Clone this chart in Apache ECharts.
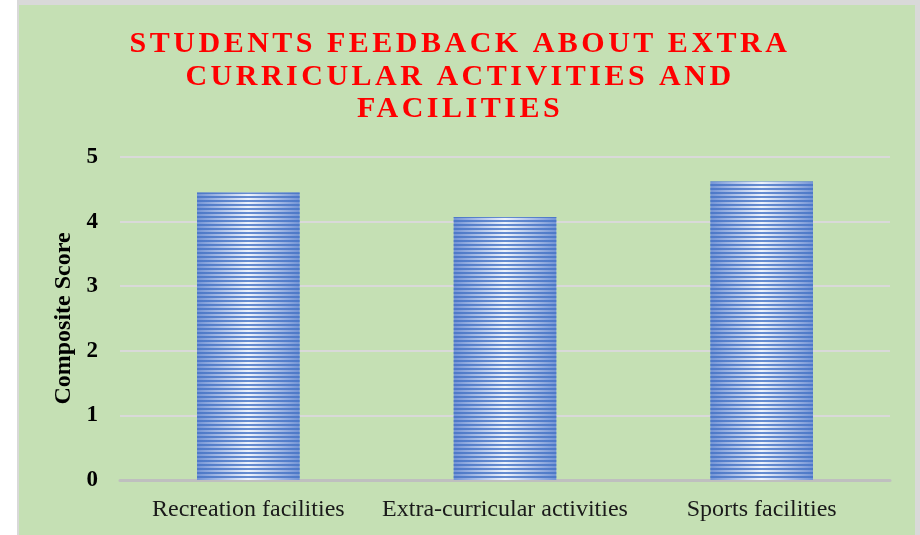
<!DOCTYPE html>
<html>
<head>
<meta charset="utf-8">
<script src="https://cdn.jsdelivr.net/npm/echarts@6/dist/echarts.min.js"></script>
<style>
html,body{margin:0;padding:0;background:#ffffff;}
#chart{width:920px;height:535px;}
</style>
</head>
<body>
<div id="chart"></div>
<script>
const titleText = 'STUDENTS FEEDBACK ABOUT EXTRA\nCURRICULAR ACTIVITIES AND\nFACILITIES';
const categories = ['Recreation facilities', 'Extra-curricular activities', 'Sports facilities'];
const scores = [4.45, 4.07, 4.62];
const yTicks = [0, 1, 2, 3, 4, 5];
const yAxisName = 'Composite Score';

// letter-spaced title (canvas letterSpacing) for red title text only
(function(){
  const proto = CanvasRenderingContext2D.prototype;
  const orig = proto.fillText;
  proto.fillText = function(t, x, y, m){
    if ('letterSpacing' in this) {
      this.letterSpacing = (this.fillStyle === '#ff0000') ? '3.5px' : '0px';
    }
    return m === undefined ? orig.call(this, t, x, y) : orig.call(this, t, x, y, m);
  };
})();

const chart = echarts.init(document.getElementById('chart'), null, {renderer: 'canvas'});
const option = {
  backgroundColor: '#ffffff',
  animation: false,
  graphic: [
    {type: 'rect', z: -100, silent: true, shape: {x: 17, y: 0, width: 903, height: 535}, style: {fill: '#d9d9d9'}},
    {type: 'rect', z: -99, silent: true, shape: {x: 19, y: 5, width: 896, height: 530}, style: {fill: '#c5e0b4'}}
  ],
  title: {
    text: titleText,
    left: 'center',
    top: 23,
    textStyle: {
      color: '#ff0000',
      fontFamily: 'Liberation Serif',
      fontWeight: 'bold',
      fontSize: 30,
      lineHeight: 32.5
    }
  },
  grid: {left: 120, right: 30, top: 157, bottom: 55, containLabel: false},
  xAxis: {
    type: 'category',
    data: categories,
    axisTick: {show: false},
    axisLine: {lineStyle: {color: '#bfbfbf', width: 3}},
    axisLabel: {
      interval: 0,
      color: '#1a1a1a',
      fontFamily: 'Liberation Serif',
      fontSize: 24,
      margin: 18
    }
  },
  yAxis: {
    type: 'value',
    min: yTicks[0],
    max: yTicks[yTicks.length - 1],
    interval: 1,
    name: yAxisName,
    nameLocation: 'middle',
    nameGap: 40,
    nameTextStyle: {
      color: '#000000',
      fontFamily: 'Liberation Serif',
      fontWeight: 'bold',
      fontSize: 24
    },
    axisLine: {show: false},
    axisTick: {show: false},
    axisLabel: {
      color: '#000000',
      fontFamily: 'Liberation Serif',
      fontWeight: 'bold',
      fontSize: 23,
      margin: 22
    },
    splitLine: {lineStyle: {color: '#d9d9d9', width: 2}}
  },
  series: [{
    type: 'bar',
    data: scores,
    barWidth: '40%',
    itemStyle: {
      color: new echarts.graphic.LinearGradient(0, 0, 1, 0, [
        {offset: 0, color: '#7394d6'},
        {offset: 0.5, color: '#eef3fc'},
        {offset: 1, color: '#7394d6'}
      ]),
      decal: {
        symbol: 'rect',
        symbolSize: 1,
        rotation: 0,
        dashArrayX: [1, 0],
        dashArrayY: [2, 2],
        color: 'rgba(68,114,196,0.8)'
      }
    }
  }]
};
chart.setOption(option);
</script>
</body>
</html>
